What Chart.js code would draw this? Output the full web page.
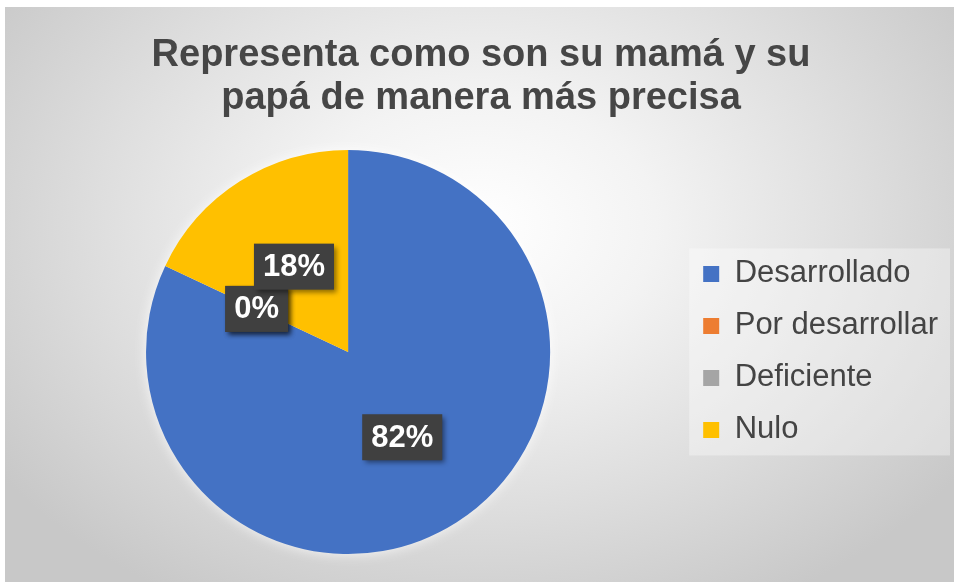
<!DOCTYPE html>
<html>
<head>
<meta charset="utf-8">
<script src="https://cdn.jsdelivr.net/npm/chart.js@4.4.1/dist/chart.umd.min.js"></script>
<style>
  body { margin: 0; background: #ffffff; }
  #wrap {
    position: absolute; left: 5px; top: 7px; width: 949px; height: 575px;
    background: radial-gradient(ellipse 62% 75% at 50% 38%, #ffffff 0%, #f3f3f3 30%, #dedede 65%, #c8c8c8 100%);
  }
</style>
</head>
<body>
<div id="wrap"><canvas id="chartInfo" width="949" height="575"></canvas></div>
<script>
// data
var titleLines = ["Representa como son su mamá y su", "papá de manera más precisa"]
var categories = ["Desarrollado", "Por desarrollar", "Deficiente", "Nulo"]
var percents = [82, 0, 0, 18]
var colours = ["#4472C4", "#ED7D31", "#A5A5A5", "#FFC000"]

var fontName = "'Liberation Sans', Arial, sans-serif"

// lighter box behind the legend
var legendBox = {
    id: 'legendBox',
    beforeDraw: function (chart) {
        var boxes = chart.legend.legendHitBoxes
        if (!boxes || !boxes.length) return
        var ctx = chart.ctx
        var last = boxes[boxes.length - 1]
        var x0 = boxes[0].left - 14
        var y0 = boxes[0].top - 10
        ctx.save()
        ctx.fillStyle = 'rgba(255,255,255,0.35)'
        ctx.fillRect(x0, y0, chart.width - 4 - x0, last.top + last.height + 10 - y0)
        ctx.restore()
    }
}

// soft light glow round the pie
var pieGlow = {
    id: 'pieGlow',
    beforeDatasetsDraw: function (chart) {
        var arc = chart.getDatasetMeta(0).data[0]
        if (!arc) return
        var ctx = chart.ctx
        ctx.save()
        ctx.shadowColor = 'rgba(255,255,255,0.9)'
        ctx.shadowBlur = 14
        ctx.fillStyle = '#f4f4f4'
        ctx.beginPath()
        ctx.arc(arc.x, arc.y, arc.outerRadius - 1, 0, Math.PI * 2)
        ctx.fill()
        ctx.restore()
    }
}

// dark percent labels in the middle of each slice
var sliceLabels = {
    id: 'sliceLabels',
    afterDatasetsDraw: function (chart) {
        var ctx = chart.ctx
        var meta = chart.getDatasetMeta(0)
        ctx.save()
        ctx.font = 'bold 31px ' + fontName
        ctx.textAlign = 'center'
        ctx.textBaseline = 'middle'
        meta.data.forEach(function (arc, i) {
            var p = arc.tooltipPosition()
            var txt = percents[i] + '%'
            var w = ctx.measureText(txt).width + 18
            var h = 46
            ctx.shadowColor = 'rgba(0,0,0,0.45)'
            ctx.shadowBlur = 5
            ctx.shadowOffsetX = 3
            ctx.shadowOffsetY = 3
            ctx.fillStyle = '#404040'
            ctx.fillRect(p.x - w / 2, p.y - h / 2, w, h)
            ctx.shadowColor = 'transparent'
            ctx.fillStyle = '#ffffff'
            ctx.fillText(txt, p.x, p.y + 1)
        })
        ctx.restore()
    }
}

var canvas = document.getElementById("chartInfo")
var ctx = canvas.getContext('2d')
var myChart = new Chart(ctx, {
    type: 'pie',
    data: {
        labels: categories,
        datasets: [{
            data: percents,
            backgroundColor: colours,
            borderWidth: 0
        }]
    },
    options: {
        responsive: false,
        animation: false,
        layout: { padding: { left: 9, right: 6, top: 0, bottom: 28 } },
        plugins: {
            title: {
                display: true,
                text: titleLines,
                color: '#464646',
                font: { family: fontName, size: 38, weight: 'bold', lineHeight: 1.13 },
                padding: { top: 27, bottom: 30 }
            },
            legend: {
                display: true,
                position: 'right',
                fullSize: false,
                labels: {
                    color: '#444444',
                    font: { family: fontName, size: 31 },
                    boxWidth: 16,
                    boxHeight: 16,
                    padding: 21
                }
            },
            tooltip: { enabled: false }
        }
    },
    plugins: [legendBox, pieGlow, sliceLabels]
})
</script>
</body>
</html>
